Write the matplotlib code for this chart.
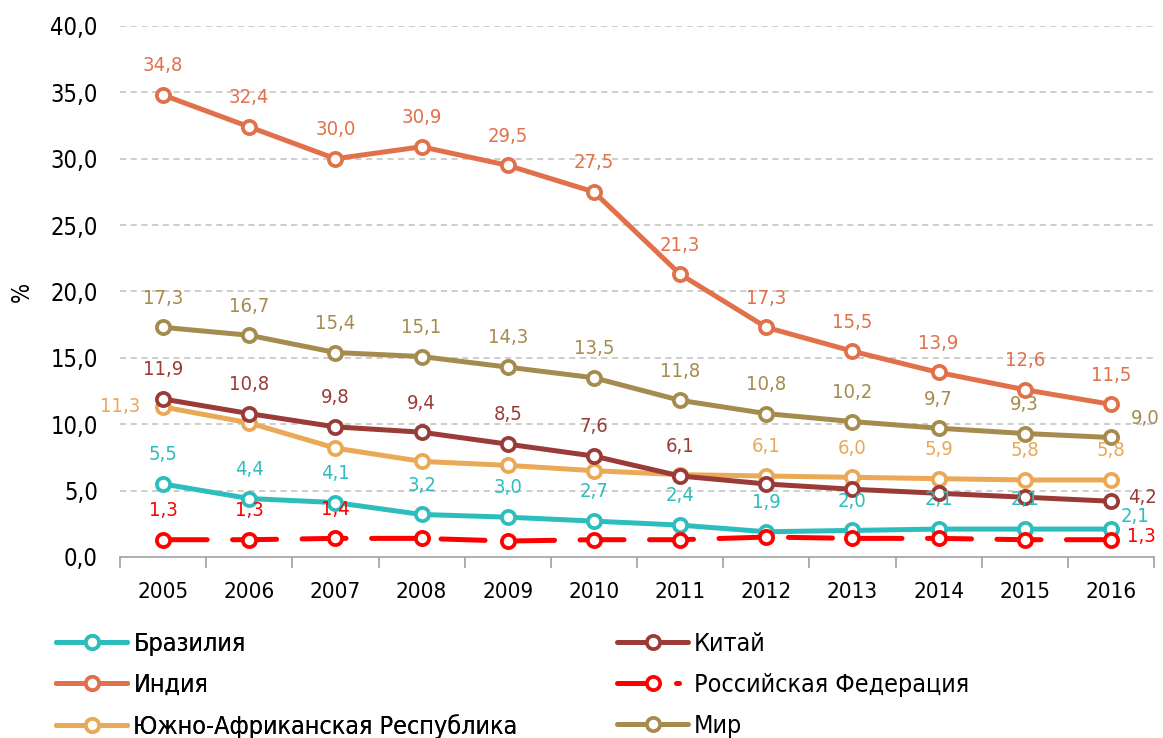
import matplotlib
matplotlib.use("Agg")
import matplotlib.pyplot as plt
from matplotlib.lines import Line2D
import numpy as np

years = ["2005", "2006", "2007", "2008", "2009", "2010", "2011", "2012", "2013", "2014", "2015", "2016"]
brazil = [5.5, 4.4, 4.1, 3.2, 3.0, 2.7, 2.4, 1.9, 2.0, 2.1, 2.1, 2.1]
india = [34.8, 32.4, 30.0, 30.9, 29.5, 27.5, 21.3, 17.3, 15.5, 13.9, 12.6, 11.5]
sar = [11.3, 10.1, 8.2, 7.2, 6.9, 6.5, 6.2, 6.1, 6.0, 5.9, 5.8, 5.8]
china = [11.9, 10.8, 9.8, 9.4, 8.5, 7.6, 6.1, 5.5, 5.1, 4.8, 4.5, 4.2]
russia = [1.3, 1.3, 1.4, 1.4, 1.2, 1.3, 1.3, 1.5, 1.4, 1.4, 1.3, 1.3]
world = [17.3, 16.7, 15.4, 15.1, 14.3, 13.5, 11.8, 10.8, 10.2, 9.7, 9.3, 9.0]

names = ["Бразилия", "Индия", "Южно-Африканская Республика", "Китай", "Российская Федерация", "Мир"]
colors = {"Бразилия": "#2DBDBD", "Индия": "#E0714A", "Южно-Африканская Республика": "#E9A957",
          "Китай": "#9A3B37", "Российская Федерация": "#FF0000", "Мир": "#A68B4F"}
series = {"Бразилия": brazil, "Индия": india, "Южно-Африканская Республика": sar,
          "Китай": china, "Российская Федерация": russia, "Мир": world}

labelled = {
    "Бразилия": list(range(12)),
    "Индия": list(range(12)),
    "Южно-Африканская Республика": [0, 7, 8, 9, 10, 11],
    "Китай": [0, 1, 2, 3, 4, 5, 6, 11],
    "Российская Федерация": [0, 1, 2, 11],
    "Мир": list(range(12)),
}
special = {
    ("Южно-Африканская Республика", 0): (-31, 0),
    ("Китай", 11): (23, 3),
    ("Бразилия", 11): (17, 9),
    ("Российская Федерация", 11): (22, 2),
    ("Мир", 11): (25, 14),
}

FONT = {"family": "DejaVu Sans", "stretch": "condensed"}

fig = plt.figure(figsize=(11.63, 7.38), dpi=100)
ax = fig.add_axes([120 / 1163, 0.2453, 1034 / 1163, 0.7195])
x = np.arange(len(years))

LW, MS, MEW = 3.6, 9.5, 2.7
for n in ["Мир", "Индия", "Южно-Африканская Республика", "Китай", "Бразилия", "Российская Федерация"]:
    c = colors[n]
    ls = (0, (8.8, 5.1)) if n == "Российская Федерация" else "-"
    ax.plot(x, series[n], color=c, lw=LW, ls=ls, marker="o", ms=MS, mfc="white",
            mec=c, mew=MEW, zorder=3, solid_capstyle="round", dash_capstyle="round")
    for i in labelled[n]:
        off = special.get((n, i), (0, 21))
        ax.annotate(f"{series[n][i]:.1f}".replace(".", ","), (x[i], series[n][i]),
                    xytext=off, textcoords="offset points", ha="center", va="center",
                    fontsize=14.5, color=c, zorder=4, **FONT)

ax.set_xlim(-0.5, 11.5)
ax.set_ylim(0, 40)
ax.set_yticks(np.arange(0, 41, 5))
ax.set_yticklabels([f"{v:.1f}".replace(".", ",") for v in np.arange(0, 41, 5)], fontsize=17, **FONT)
ax.set_xticks(x)
ax.set_xticklabels(years, fontsize=16, **FONT)
ax.set_xticks(np.arange(-0.5, 12, 1), minor=True)
ax.tick_params(axis="x", which="major", length=0, pad=18)
ax.tick_params(axis="x", which="minor", length=8, color="#A0A0A0", width=1.2, direction="out")
ax.tick_params(axis="y", length=0, pad=16)
for s in ["top", "right", "left"]:
    ax.spines[s].set_visible(False)
ax.spines["bottom"].set_color("#A0A0A0")
ax.spines["bottom"].set_linewidth(1.2)
for v in np.arange(5, 41, 5):
    ax.axhline(v, color="#C0C0C0", lw=1.1, ls=(0, (4, 3)), zorder=1)
ax.set_ylabel("%", fontsize=17, **FONT)
ax.yaxis.set_label_coords(-0.083, 0.5)

def handle(n):
    c = colors[n]
    ls = (0, (8.0, 3.8, 0.6, 10)) if n == "Российская Федерация" else "-"
    return Line2D([], [], color=c, lw=LW, ls=ls, marker="o", ms=MS, mfc="white", mec=c, mew=MEW,
                  solid_capstyle="round", dash_capstyle="round")

leg_kw = dict(loc="upper left", frameon=False, handlelength=2.84, handletextpad=0.25,
              labelspacing=0.68, borderpad=0, borderaxespad=0,
              prop={"family": "DejaVu Sans", "stretch": "condensed", "size": 18})
col1 = ["Бразилия", "Индия", "Южно-Африканская Республика"]
col2 = ["Китай", "Российская Федерация", "Мир"]
top = (738 - 632) / 738
l1 = fig.legend([handle(n) for n in col1], col1, bbox_to_anchor=(56 / 1163, top), **leg_kw)
fig.add_artist(l1)
l2 = fig.legend([handle(n) for n in col2], col2, bbox_to_anchor=(617 / 1163, top), **leg_kw)
fig.savefig("out.png", dpi=100)
